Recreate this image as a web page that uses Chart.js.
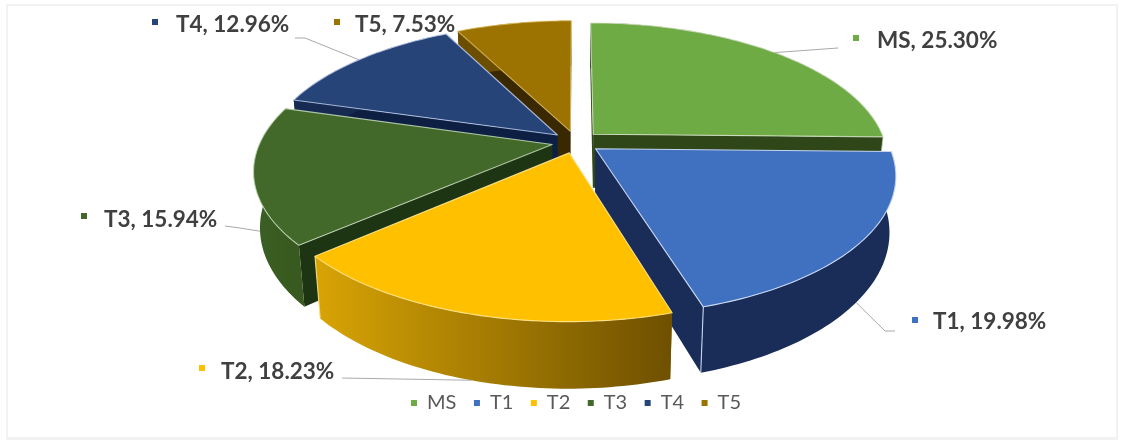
<!DOCTYPE html>
<html>
<head>
<meta charset="utf-8">
<style>
  html, body { margin: 0; padding: 0; background: #fff; overflow: hidden; }
  #frame { position: absolute; left: 6px; top: 4px; width: 1108px; height: 431px; border: 2px solid #f2f2f2; border-bottom-width: 4px; }
  #chart { position: absolute; left: 0; top: 0; }
</style>
<script src="https://cdn.jsdelivr.net/npm/chart.js@4"></script>
</head>
<body>
<div id="frame"></div>
<canvas id="chart" width="1124" height="440"></canvas>
<script>
// Share of each class
const categories = ['MS', 'T1', 'T2', 'T3', 'T4', 'T5'];
const shares = [25.30, 19.98, 18.23, 15.94, 12.96, 7.53];

// Slice styling
const topColors = ['#6fab45', '#4070c0', '#ffc000', '#43692a', '#264478', '#9c7200'];
const cutColors = ['#2f4619', '#1a2d58', '#8a6800', '#1d3513', '#0d2044', '#3a2800'];
const rimColorsFrom = ['#2f4619', '#1a2d58', '#d8a405', '#3a5f24', '#172b52', '#6b4e00'];
const rimColorsTo = ['#2f4619', '#1a2d58', '#6e5000', '#38591f', '#172b52', '#6b4e00'];
const edgeColors = ['rgba(225,235,215,.75)', 'rgba(205,220,245,.95)', 'rgba(255,230,140,.9)',
                    'rgba(205,225,195,.8)', 'rgba(190,205,235,.85)', 'rgba(230,200,110,.7)'];

// Where each label sits on the page, and the elbow of its leader line
const labelX = [877, 933, 221, 104, 176, 355];
const labelY = [41, 322, 372, 220, 25, 25];
const markerX = [856, 915, 202, 84, 155, 337];
const markerY = [38, 320, 368, 216, 22, 22];
const leaderEnd = [[838, 48], [895, 331], [342, 378], [225, 226], [295, 38], null];
const leaderElbow = [null, [885, 331], null, [240, 228], [305, 38], null];

// Tilted disc seen in perspective; vertical edges lean slightly toward the middle
const view = { cx: 576, cy: 142, rx: 292, ry: 134, persp: 0.18, depth: 54, lean: 0.02 };

function project(u, v) {
  const w = 1 / (1 - view.persp * v);
  return { x: view.cx + u * view.rx * w, y: view.cy + v * view.ry * w, drop: view.depth * w };
}

// Samples one arc element on the tilted disc, using the angles the controller computed
function sliceGeometry(arc) {
  const { startAngle, endAngle, outerRadius } = arc.getProps(['startAngle', 'endAngle', 'outerRadius']);
  const mid = (startAngle + endAngle) / 2;
  const shift = arc.options.offset / outerRadius;
  const at = (a, r) => project(r * Math.cos(a) + shift * Math.cos(mid), r * Math.sin(a) + shift * Math.sin(mid));
  const steps = Math.max(4, Math.ceil((endAngle - startAngle) / 0.02));
  const rim = [];
  for (let i = 0; i <= steps; i++) rim.push(at(startAngle + (endAngle - startAngle) * i / steps, 1));
  return { apex: at(mid, 0), rim, midPoint: at(mid, 1), facing: Math.sin(mid), endFront: Math.sin(endAngle) > 0 };
}

function trace(ctx, pts) {
  ctx.beginPath();
  pts.forEach((p, i) => i ? ctx.lineTo(p.x, p.y) : ctx.moveTo(p.x, p.y));
  ctx.closePath();
}

const lowered = p => ({ x: p.x - (p.x - view.cx) * view.lean, y: p.y + p.drop, drop: p.drop });

function drawSlice(ctx, i, g) {
  const { apex, rim } = g;
  const first = rim[0], last = rim[rim.length - 1];

  // Cut faces along the two radii
  ctx.fillStyle = cutColors[i];
  trace(ctx, [apex, first, lowered(first), lowered(apex)]);
  ctx.fill();
  trace(ctx, [apex, last, lowered(last), lowered(apex)]);
  ctx.fill();

  // Curved outer wall
  const xs = rim.map(p => p.x);
  const grad = ctx.createLinearGradient(Math.min(...xs), 0, Math.max(...xs), 0);
  grad.addColorStop(0, rimColorsFrom[i]);
  grad.addColorStop(1, rimColorsTo[i]);
  ctx.fillStyle = grad;
  trace(ctx, rim.concat(rim.map(lowered).reverse()));
  ctx.fill();

  // Top face
  ctx.fillStyle = topColors[i];
  trace(ctx, [apex].concat(rim));
  ctx.fill();
  ctx.strokeStyle = edgeColors[i];
  ctx.lineWidth = 1.1;
  ctx.stroke();

  // Front corner where the cut face meets the curved wall
  if (g.endFront) {
    const foot = lowered(last);
    ctx.beginPath();
    ctx.moveTo(last.x, last.y);
    ctx.lineTo(foot.x, foot.y);
    ctx.stroke();
  }
}

const tiltedPie = {
  id: 'tiltedPie',
  beforeDatasetDraw(chart, args) {
    const ctx = chart.ctx;
    const arcs = args.meta.data;
    const items = arcs.map((arc, i) => ({ i, g: sliceGeometry(arc) }));
    items.sort((a, b) => a.g.facing - b.g.facing);
    ctx.save();
    ctx.lineJoin = 'round';
    items.forEach(it => drawSlice(ctx, it.i, it.g));
    ctx.restore();
    return false;
  },
  afterDatasetsDraw(chart) {
    const ctx = chart.ctx;
    const arcs = chart.getDatasetMeta(0).data;
    ctx.save();
    arcs.forEach((arc, i) => {
      const g = sliceGeometry(arc);
      const end = leaderEnd[i];
      if (end) {
        const start = g.facing > 0 ? lowered(g.midPoint) : g.midPoint;
        ctx.beginPath();
        ctx.moveTo(start.x, start.y);
        if (leaderElbow[i]) ctx.lineTo(leaderElbow[i][0], leaderElbow[i][1]);
        ctx.lineTo(end[0], end[1]);
        ctx.strokeStyle = '#a9a9a9';
        ctx.lineWidth = 1;
        ctx.stroke();
      }
      ctx.fillStyle = topColors[i];
      ctx.fillRect(markerX[i] - 3, markerY[i] - 3, 6, 6);
      ctx.fillStyle = '#404040';
      ctx.font = 'bold 22.5px Lato';
      ctx.textAlign = 'left';
      ctx.textBaseline = 'middle';
      ctx.fillText(categories[i] + ', ' + shares[i].toFixed(2) + '%', labelX[i], labelY[i]);
    });
    ctx.restore();
  }
};

new Chart(document.getElementById('chart'), {
  type: 'pie',
  data: {
    labels: categories,
    datasets: [{
      data: shares,
      backgroundColor: topColors,
      borderWidth: 0,
      offset: 15
    }]
  },
  options: {
    responsive: false,
    animation: false,
    layout: { padding: { left: 28, bottom: 17 } },
    plugins: {
      tooltip: { enabled: false },
      legend: {
        position: 'bottom',
        labels: {
          boxWidth: 6,
          boxHeight: 6,
          padding: 17.5,
          color: '#595959',
          font: { family: 'Lato', size: 20 }
        }
      }
    }
  },
  plugins: [tiltedPie]
});
</script>
</body>
</html>
